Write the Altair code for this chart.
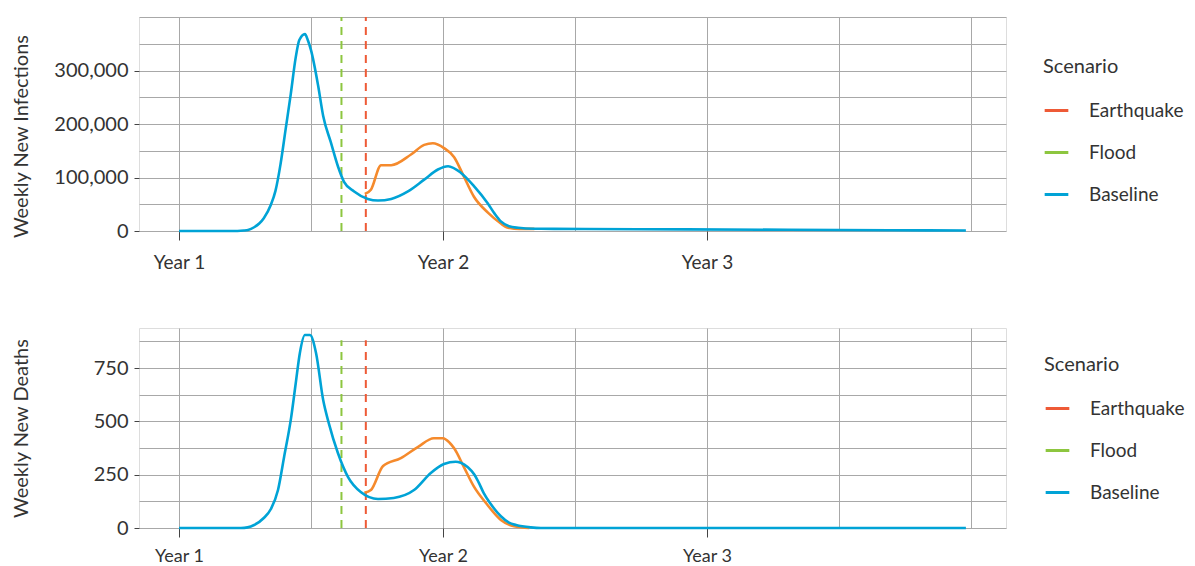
import altair as alt
import pandas as pd

FONT = "Lato"
TXT = "#333333"
GRID = "#a8a8a8"

# x = weeks since start of Year 1 (52 weeks per year)
year_ticks = [0, 52, 104]
x_grid = [0, 26, 52, 78, 104, 130, 156]

# Weekly new infections
inf_base_weeks = [0, 11.5, 12.8, 13.6, 14.8, 15.8, 16.7, 18.1, 19.0, 20.0, 21.0, 22.0, 23.0, 23.7, 24.8,
                  25.4, 26.0, 27.4, 28.4, 29.9, 31.3, 32.5, 34.5, 37.2, 39.2, 41.8, 45.1, 48.3, 51.0,
                  53.0, 55.5, 58.1, 60.8, 62.2, 63.4, 65.0, 66.8, 70, 80, 100, 120, 140, 155]
inf_base_vals = [0, 0, 800, 2000, 7000, 14000, 24000, 49000, 75000, 125000, 190000, 255000, 325000, 357000, 368000,
                 356000, 338000, 272000, 215000, 166000, 121000, 92000, 74000, 60000, 57000, 60000, 74000, 96000, 115000,
                 121000, 109000, 84000, 52000, 32000, 18000, 9000, 6000, 4200, 3800, 3000, 2300, 1500, 800]
inf_eq_weeks = [36.6, 37.8, 39.8, 41.8, 45.7, 48.3, 50.0, 52.2, 54.2, 56.1, 58.1, 60.9, 63.4, 64.5, 66, 68, 70]
inf_eq_vals = [69000, 77000, 123000, 123000, 143000, 161000, 164000, 155000, 138000, 102000, 64000, 34000,
               14000, 7000, 4500, 4000, 4000]

# Weekly new deaths
dth_base_weeks = [0, 12.2, 13.5, 14.8, 16.7, 18.1, 19.5, 20.7, 22.1, 23.0, 23.8, 24.8, 25.8, 27.0, 28.4, 29.5,
                  31.3, 33.3, 35.8, 39.2, 42.3, 46.3, 49.6, 52.2, 54.5, 55.5, 56.9, 58.2, 59.0, 60.0, 61.3,
                  63.4, 65.0, 66.4, 69.3, 71.3, 155]
dth_base_vals = [0, 0, 3, 14, 47, 89, 178, 333, 520, 680, 820, 905, 905, 820, 600, 492,
                 352, 239, 169, 136, 141, 178, 258, 300, 311, 306, 285, 250, 215, 165, 116,
                 55, 25, 14, 3, 0, 0]
dth_eq_weeks = [36.5, 37.8, 40.2, 43.7, 47.1, 50.2, 52.0, 53.3, 54.2, 56.1, 58.1, 60.5, 63.4, 66, 69]
dth_eq_vals = [165, 178, 291, 328, 381, 421, 421, 400, 374, 287, 194, 116, 38, 8, 0]

# Scenario event times (weeks)
event_names = ["Flood", "Earthquake"]
event_weeks = [32.0, 36.8]

scen_domain = ["Earthquake", "Flood", "Baseline"]
scen_colors = ["#EE5A36", "#8DC63F", "#00A3D6"]
eq_line_color = "#F58A2C"


def panel(bw, bv, ew, ev, rule_top, ymax, ystep, lstep, lmax, title, height,
          legend_x, legend_y, title_y, xlab_size, xlab_pad):
    base = pd.DataFrame({"week": bw, "value": bv, "Scenario": "Baseline"})
    eq = pd.DataFrame({"week": ew, "value": ev})
    ev_df = pd.DataFrame({"week": event_weeks, "Scenario": event_names, "y0": 0, "y1": rule_top})

    xscale = alt.Scale(domain=[-7.88, 162.9], nice=False, zero=False)
    xaxis = alt.Axis(
        values=x_grid, title=None, domain=False, grid=True, gridColor=GRID, gridWidth=1,
        labelExpr="datum.value % 52 == 0 && datum.value < 150 ? 'Year ' + (datum.value / 52 + 1) : ''",
        tickOpacity={"condition": {"test": "datum.value % 52 == 0 && datum.value < 150", "value": 1}, "value": 0},
        tickSize=9, tickColor="#444", labelPadding=xlab_pad, labelFontSize=xlab_size,
        labelColor=TXT, labelFont=FONT,
    )
    yvals = list(range(0, int(ymax) + 1, ystep))
    test = f"datum.value % {lstep} == 0 && datum.value <= {lmax}"
    yscale = alt.Scale(domain=[0, ymax], nice=False)
    yaxis = alt.Axis(
        values=yvals, title=title, domain=False, grid=True, gridColor=GRID, gridWidth=1,
        labelExpr=f"{test} ? format(datum.value, ',') : ''",
        tickOpacity={"condition": {"test": test, "value": 1}, "value": 0},
        tickSize=5, tickColor="#444", labelPadding=6, labelFontSize=20, labelColor=TXT, labelFont=FONT,
        titleFontSize=20, titleFontWeight="normal", titleColor=TXT, titleFont=FONT,
        titleX=-118, titleY=title_y, titleAngle=270, titleBaseline="middle", titleAlign="center",
    )
    color = alt.Color(
        "Scenario:N",
        scale=alt.Scale(domain=scen_domain, range=scen_colors),
        legend=alt.Legend(
            title="Scenario", orient="none", legendX=legend_x, legendY=legend_y,
            symbolType="stroke", symbolStrokeWidth=3, symbolSize=560, symbolDash=[1, 0],
            labelFontSize=19, labelFont=FONT, labelColor=TXT, labelOffset=19,
            titleFontSize=20, titleFont=FONT, titleFontWeight="normal", titleColor=TXT,
            titlePadding=20, rowPadding=18, padding=0,
        ),
    )
    rules = alt.Chart(ev_df).mark_rule(strokeDash=[8, 6], strokeWidth=2).encode(
        x=alt.X("week:Q", scale=xscale, axis=xaxis),
        y=alt.Y("y0:Q", scale=yscale, axis=yaxis),
        y2="y1:Q",
        color=color,
    )
    eq_line = alt.Chart(eq).mark_line(color=eq_line_color, strokeWidth=2.6, interpolate="monotone").encode(
        x=alt.X("week:Q", scale=xscale, axis=xaxis),
        y=alt.Y("value:Q", scale=yscale, axis=yaxis),
    )
    base_line = alt.Chart(base).mark_line(strokeWidth=2.6, interpolate="monotone").encode(
        x=alt.X("week:Q", scale=xscale, axis=xaxis),
        y=alt.Y("value:Q", scale=yscale, axis=yaxis),
        color=color,
    )
    return alt.layer(rules, eq_line, base_line).properties(width=867, height=height)


top = panel(inf_base_weeks, inf_base_vals, inf_eq_weeks, inf_eq_vals, 400000, 400000, 50000, 100000, 300000,
            "Weekly New Infections", 214, 904, 40, 119, 19, 13)
bottom = panel(dth_base_weeks, dth_base_vals, dth_eq_weeks, dth_eq_vals, 880, 938, 125, 250, 750,
               "Weekly New Deaths", 200, 905, 27, 100, 18, 10)

chart = alt.vconcat(top, bottom, spacing=54).resolve_scale(color="independent").properties(
    padding={"left": 2, "top": 7, "right": 0, "bottom": 0}
).configure_view(stroke=None).configure(font=FONT)

chart.save("out.html", embed_options={"renderer": "svg", "actions": False})
